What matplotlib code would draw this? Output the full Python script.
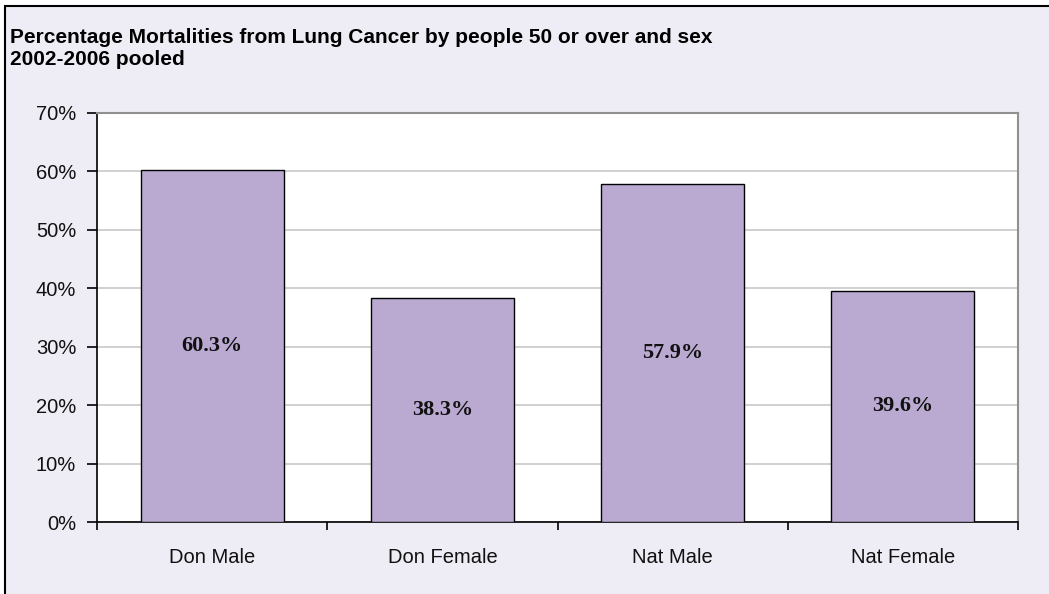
import matplotlib.pyplot as plt
from matplotlib.patches import Rectangle
from matplotlib.ticker import FuncFormatter, MultipleLocator

groups = ["Don Male", "Don Female", "Nat Male", "Nat Female"]
pct = [60.3, 38.3, 57.9, 39.6]

fig = plt.figure(figsize=(10.49, 5.94), dpi=100, facecolor="white")

# chart area background with a black frame on top and left
W, H = 1049, 594
fig.patches.append(Rectangle((5 / W, -0.1), 1.2, 1.1 - 6 / H,
                             transform=fig.transFigure, facecolor="#EEECF4",
                             edgecolor="black", linewidth=1.5, zorder=-5))

ax = fig.add_axes([97 / W, 1 - 522 / H, (1018 - 97) / W, (522 - 113) / H])
ax.set_facecolor("white")

x = [i + 0.5 for i in range(len(groups))]
bars = ax.bar(x, pct, width=0.62, color="#BAAAD2", edgecolor="black",
              linewidth=1.0, zorder=3)

for b, v in zip(bars, pct):
    ax.text(b.get_x() + b.get_width() / 2, v / 2, "%.1f%%" % v,
            ha="center", va="center", fontsize=16, fontweight="bold",
            family="Liberation Serif", color="#111111", zorder=4)

ax.set_xlim(0, 4)
ax.set_ylim(0, 70)
ax.yaxis.set_major_locator(MultipleLocator(10))
ax.yaxis.set_major_formatter(FuncFormatter(lambda v, p: "%d%%" % v))
ax.grid(axis="y", color="#C8C8C8", linewidth=1.2, zorder=1)

ax.set_xticks(x)
ax.set_xticklabels(groups)
ax.set_xticks([0, 1, 2, 3, 4], minor=True)
ax.tick_params(axis="x", which="major", length=0, pad=19)
ax.tick_params(axis="x", which="minor", length=6, width=1.2, direction="out", color="black")
ax.tick_params(axis="y", length=7, width=1.2, direction="out", pad=8, color="black")
for lab in ax.get_xticklabels() + ax.get_yticklabels():
    lab.set_family("Liberation Sans")
    lab.set_fontsize(14.5)
    lab.set_color("#111111")

for s in ("top", "right"):
    ax.spines[s].set_color("#909090")
    ax.spines[s].set_linewidth(1.5)
for s in ("left", "bottom"):
    ax.spines[s].set_color("black")
    ax.spines[s].set_linewidth(1.2)

fig.text(10 / W, 1 - 43 / H, "Percentage Mortalities from Lung Cancer by people 50 or over and sex",
         family="Liberation Sans", fontweight="bold", fontsize=15, va="baseline", ha="left")
fig.text(10 / W, 1 - 65 / H, "2002-2006 pooled",
         family="Liberation Sans", fontweight="bold", fontsize=15, va="baseline", ha="left")

fig.savefig("out.png", dpi=100, facecolor=fig.get_facecolor())
